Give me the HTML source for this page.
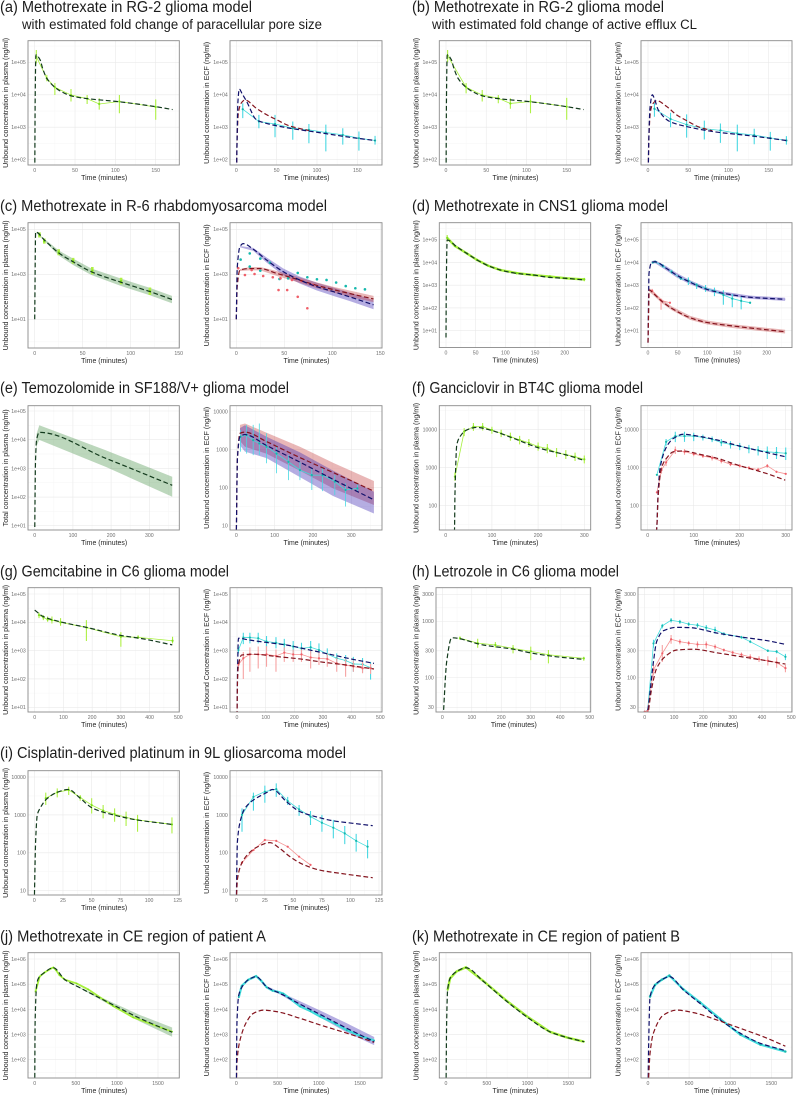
<!DOCTYPE html>
<html lang="en">
<head>
<meta charset="utf-8">
<title>Model predictions versus observed concentrations</title>
<style>
html,body{margin:0;padding:0;background:#fff;}
#figure{display:block;width:796px;height:1096px;font-family:"Liberation Sans",sans-serif;filter:blur(0.25px);}
.panel-title{font-size:15.5px;fill:#1c1c1c;}
.panel-subtitle{font-size:13.5px;fill:#1c1c1c;}
</style>
</head>
<body>
<svg id="figure" width="796" height="1096" viewBox="0 0 796 1096" xmlns="http://www.w3.org/2000/svg">
<rect x="0" y="0" width="796" height="1096" fill="#fff"/>
<text class="panel-title" x="0" y="12" textLength="252" lengthAdjust="spacingAndGlyphs">(a) Methotrexate in RG-2 glioma model</text>
<text class="panel-subtitle" x="22" y="29" textLength="300" lengthAdjust="spacingAndGlyphs">with estimated fold change of paracellular pore size</text>
<text class="panel-title" x="412" y="12" textLength="252" lengthAdjust="spacingAndGlyphs">(b) Methotrexate in RG-2 glioma model</text>
<text class="panel-subtitle" x="432" y="29" textLength="265" lengthAdjust="spacingAndGlyphs">with estimated fold change of active efflux CL</text>
<text class="panel-title" x="0" y="211" textLength="327" lengthAdjust="spacingAndGlyphs">(c) Methotrexate in R-6 rhabdomyosarcoma model</text>
<text class="panel-title" x="412" y="211" textLength="256" lengthAdjust="spacingAndGlyphs">(d) Methotrexate in CNS1 glioma model</text>
<text class="panel-title" x="0" y="393" textLength="289" lengthAdjust="spacingAndGlyphs">(e) Temozolomide in SF188/V+ glioma model</text>
<text class="panel-title" x="412" y="393" textLength="231" lengthAdjust="spacingAndGlyphs">(f) Ganciclovir in BT4C glioma model</text>
<text class="panel-title" x="0" y="576.5" textLength="229" lengthAdjust="spacingAndGlyphs">(g) Gemcitabine in C6 glioma model</text>
<text class="panel-title" x="412" y="576.5" textLength="207" lengthAdjust="spacingAndGlyphs">(h) Letrozole in C6 glioma model</text>
<text class="panel-title" x="0" y="758" textLength="346" lengthAdjust="spacingAndGlyphs">(i) Cisplatin-derived platinum in 9L gliosarcoma model</text>
<text class="panel-title" x="0" y="941.5" textLength="266" lengthAdjust="spacingAndGlyphs">(j) Methotrexate in CE region of patient A</text>
<text class="panel-title" x="412" y="941.5" textLength="268" lengthAdjust="spacingAndGlyphs">(k) Methotrexate in CE region of patient B</text>
<g id="panels"></g>
</svg>
<script>
// ---------- tick arrays ----------
const xTicks150 = [0,50,100,150];
const xTicks250 = [0,50,100,150,200];
const xTicks300 = [0,100,200,300];
const xTicks500 = [0,100,200,300,400,500];
const xTicks125 = [0,25,50,75,100,125];
const xTicks1500 = [0,500,1000,1500];
const yTicksA = [100000,10000,1000,100];
const yLabelsA = ['1e+05','1e+04','1e+03','1e+02'];
const yTicksC = [100000,1000,10];
const yLabelsC = ['1e+05','1e+03','1e+01'];
const yTicksD = [100000,10000,1000,100,10];
const yLabelsD = ['1e+05','1e+04','1e+03','1e+02','1e+01'];
const yTicksE = [10000,1000,100,10];
const yLabelsE = ['10000','1000','100','10'];
const yTicksF = [10000,1000,100];
const yLabelsF = ['10000','1000','100'];
const yTicksH = [3000,1000,300,100,30];
const yLabelsH = ['3000','1000','300','100','30'];
const yTicksJ = [1000000,100000,10000,1000,100];
const yLabelsJ = ['1e+06','1e+05','1e+04','1e+03','1e+02'];

// ---------- (a) ----------
const aPlasmaTime = [0,0.6,1.5,6.6,10,15,25,33,46,65,102,150,171];
const aPlasmaModel = [10,8000,170000,120000,63000,32000,17000,12500,9100,7600,6200,4300,3500];
const aPlasmaObsTime = [2,15,25,45,65,80,105,150];
const aPlasmaObs = [150000,32000,17000,9800,7600,5200,6200,4200];
const aPlasmaObsLow = [93000,26000,9800,6200,5200,3500,2700,1700];
const aPlasmaObsHigh = [240000,41000,23000,15000,9800,7800,9800,7200];
const aEcfBlueTime = [0,1,2,3.7,7,12.8,25,38,66.5,100,141,172];
const aEcfBlue = [10,500,6000,15000,11000,6200,1700,1300,930,700,490,390];
const aEcfRedTime = [0,1,2.5,6,10.7,25,38,50,66,90];
const aEcfRed = [10,400,2700,5500,6900,3800,2400,1700,1100,790];
const aEcfObsTime = [8,28,48,70,90,111,132,152,172];
const aEcfObs = [3600,1500,1260,930,830,690,580,460,390];
const aEcfObsLow = [1900,930,490,410,320,180,290,190,290];
const aEcfObsHigh = [5500,2400,2400,1500,1260,1200,930,740,540];

// ---------- (b) ----------
const bPlasmaTime = [0,0.6,1.5,6.6,10,15,25,33,46,65,102,150,171];
const bPlasmaModel = [10,8000,170000,120000,63000,32000,17000,12500,9100,7600,6200,4300,3500];
const bPlasmaObsTime = [2,25,45,65,80,105,150];
const bPlasmaObs = [160000,17000,9800,7800,5400,6200,4300];
const bPlasmaObsLow = [100000,11000,6200,5500,3700,2700,1700];
const bPlasmaObsHigh = [240000,23000,14000,9800,7800,9800,8000];
const bEcfBlueTime = [0,1,2.5,5.4,8,12.8,27,48,85,126,172];
const bEcfBlue = [10,400,4000,10000,7500,3400,1500,1050,710,550,390];
const bEcfRedTime = [0,1,3,6,10.7,23,35.5,48,64,80];
const bEcfRed = [10,400,3000,5300,6600,4400,2400,1600,1000,780];
const bEcfObsTime = [8,28,48,70,90,111,132,152,172];
const bEcfObs = [3700,1800,1200,900,800,650,570,470,390];
const bEcfObsLow = [2100,1000,480,420,330,180,300,190,290];
const bEcfObsHigh = [5600,2800,2500,1600,1300,1200,900,720,530];

// ---------- (c) ----------
const cPlasmaTime = [0,1,10.8,25.7,40,59,90,120,143];
const cPlasmaModel = [10,76000,31000,8500,3600,1300,440,170,76];
const cPlasmaRibbonTime = [1,10.8,25.7,40,59,90,120,143];
const cPlasmaRibbonHigh = [80000,35000,11000,5000,1800,640,250,110];
const cPlasmaRibbonLow = [74000,28000,6500,2600,930,300,117,52];
const cPlasmaObsTime = [5,10,25,40,60,90,120];
const cPlasmaObs = [56000,30000,9500,4000,1450,500,180];
const cPlasmaObsLow = [43000,23000,7000,3000,1000,360,120];
const cPlasmaObsHigh = [73000,39000,13000,5400,2100,700,260];
const cEcfBlueTime = [0,1,3.8,7.3,17.7,31.6,49,66,84,101,118,143];
const cEcfBlue = [10,2000,17000,23000,13000,4300,1300,560,280,170,100,44];
const cEcfBlueRibbonTime = [3.8,17.7,31.6,49,66,84,101,118,143];
const cEcfBlueHigh = [18000,15000,5600,1800,800,420,260,155,70];
const cEcfBlueLow = [16000,11000,3300,900,390,190,110,65,28];
const cEcfRedTime = [0,1,3.8,14,25,42,59,84,101,118,143];
const cEcfRed = [10,300,1550,1800,1800,1100,680,320,210,140,80];
const cEcfRedRibbonTime = [3.8,14,25,42,59,84,101,118,143];
const cEcfRedHigh = [1700,2100,2100,1400,880,430,280,190,110];
const cEcfRedLow = [1400,1500,1500,850,520,240,155,100,58];
const cEcfTealTime = [4.5,14,14,25,25,35,45,54,64,74,84,94,104,114,124,134];
const cEcfTeal = [4500,8500,2200,5000,1450,3300,620,660,1150,740,600,560,430,300,240,215];
const cEcfSalmonTime = [2,9,16,19,28,38,44,46,53,58,64,68,74,80];
const cEcfSalmon = [1860,930,1550,1030,840,740,200,660,200,560,100,520,31,340];

// ---------- (d) ----------
const dPlasmaTime = [0,0.5,2,18,35,52,71,91,119,147,175,203,233];
const dPlasmaModel = [5,1000,97000,49000,25000,13000,7200,4700,3300,2800,2200,2000,1700];
const dPlasmaObsTime = [2,15,35,52,71,91,119,147,175,203,233];
const dPlasmaObs = [120000,53000,25000,13000,7200,4700,3400,2800,2400,2000,1800];
const dPlasmaObsLow = [83000,47000,22000,11500,6400,4200,3000,2500,2000,1800,1500];
const dPlasmaObsHigh = [160000,60000,28000,15000,8100,5200,3800,3100,2800,2200,2100];
const dEcfBlueTime = [0,1,1.7,6,12,31,48,71,99,127,172,231];
const dEcfBlue = [3,300,3300,10000,10700,5500,2800,1350,660,440,295,240];
const dEcfBlueRibbonTime = [6,12,31,48,71,99,127,172,231];
const dEcfBlueHigh = [11500,12500,6800,3500,1650,790,520,350,280];
const dEcfBlueLow = [8700,9200,4400,2200,1100,550,370,250,205];
const dEcfRedTime = [0,1,2,9,23,40,71,99,144,231];
const dEcfRed = [3,50,620,440,200,96,37,23,16,9];
const dEcfRedRibbonTime = [2,9,23,40,71,99,144,231];
const dEcfRedHigh = [750,540,245,117,45,28,19,11];
const dEcfRedLow = [510,360,165,79,30,19,13,7.5];
const dEcfCyanTime = [8,12,25,40,55,68,82,97,112,127,142,157,172];
const dEcfCyan = [10000,10700,7000,3800,2000,1580,1020,720,560,370,257,204,170];
const dEcfCyanLow = [9000,9500,6000,3200,1700,1020,680,510,330,138,107,87,150];
const dEcfCyanHigh = [11000,12000,8500,4800,2500,2200,1230,1020,780,600,410,310,190];
const dEcfSalmonTime = [7,22,37];
const dEcfSalmon = [575,214,170];
const dEcfSalmonLow = [480,83,150];
const dEcfSalmonHigh = [690,260,190];

// ---------- (e) ----------
const ePlasmaTime = [0,2,5,12,186,360];
const ePlasmaModel = [5,1500,10000,18000,2240,257];
const ePlasmaRibbonTime = [2,5,12,186,360];
const ePlasmaHigh = [1700,16000,32000,4300,510];
const ePlasmaLow = [1300,6000,9800,1130,102];
const eEcfBlueTime = [0,3,9.6,22.6,79,166,253,359];
const eEcfBlue = [5,600,2200,2500,1290,470,165,48];
const eEcfRedTime = [0,3,9.6,22.6,79,166,253,359];
const eEcfRed = [5,600,2700,2900,1630,620,250,81];
const eEcfRibbonTime = [9.6,22.6,79,166,253,359];
const eEcfRedHigh = [4500,4900,2800,1200,450,150];
const eEcfRedLow = [1700,1200,780,280,95,35];
const eEcfBlueHigh = [3700,4400,2200,850,280,78];
const eEcfBlueLow = [1300,890,600,190,60,21];
const eEcfObsTime = [11,27,44,60,79,105,136,166,197,225,257,285,316];
const eEcfObs = [2200,2450,1780,1460,1200,790,480,290,214,214,145,87,96];
const eEcfObsLow = [890,790,720,720,440,240,158,158,87,81,64,32,76];
const eEcfObsHigh = [3300,4500,4500,4900,2700,1320,720,480,325,325,214,130,130];

// ---------- (f) ----------
const fPlasmaTime = [0,19,20,24,31,45,67,96,147,204,262,300];
const fPlasmaModel = [22,22,190,4000,6600,9800,11500,9800,5900,3240,2150,1550];
const fPlasmaObsTime = [20,40,60,80,100,120,140,160,180,200,220,240,260,280,300];
const fPlasmaObs = [580,8900,12000,12000,9800,8000,6600,5400,4500,3600,3200,2500,2200,1950,1660];
const fPlasmaObsLow = [450,6800,9300,9500,7800,6400,5100,4100,3500,2800,2400,1900,1700,1500,1300];
const fPlasmaObsHigh = [750,11000,15000,15000,12000,10000,8400,6900,5700,4600,4200,3300,2900,2500,2100];
const fEcfBlueTime = [0,19,20,22,27,41,56,77,114,150,200,259,299];
const fEcfBlue = [22,22,30,150,1000,3550,5900,7600,6600,5400,3700,2500,1950];
const fEcfRedTime = [0,19,20,23,30,41,56,77,114,150,200,259,299];
const fEcfRed = [22,22,30,200,1000,1780,2630,2750,2240,1780,1130,700,470];
const fEcfCyanTime = [20,40,60,80,100,120,140,160,180,200,220,240,260,280,300];
const fEcfCyan = [650,4800,6800,6800,6800,6300,5600,4600,4100,3700,3230,2900,2630,2500,2400];
const fEcfCyanLow = [620,3800,4700,4800,5000,5200,4700,3700,3200,2900,2400,2100,1700,1700,1600];
const fEcfCyanHigh = [680,5700,8800,8800,8300,7400,6600,5700,5000,4500,4000,3700,3600,3500,3400];
const fEcfSalmonTime = [20,30,40,60,80,100,120,140,160,180,200,220,240,260,280,300];
const fEcfSalmon = [225,870,1380,2900,2630,2290,2040,1820,1500,1230,1120,990,890,1120,780,690];
const fEcfSalmonLow = [210,700,1100,2300,2200,2000,1800,1550,1300,1100,1000,880,790,1000,730,660];
const fEcfSalmonHigh = [240,1050,1700,3600,3100,2600,2300,2100,1750,1400,1250,1100,1000,1250,830,720];

// ---------- (g) ----------
const gPlasmaTime = [0,30,88,181,297,378,479];
const gPlasmaModel = [27000,16000,10500,6600,3500,2600,1600];
const gPlasmaObsTime = [15,30,45,60,90,180,300,360,480];
const gPlasmaObs = [18000,15000,12600,12000,10000,6600,3100,2950,2240];
const gPlasmaObsLow = [14000,12000,10500,9100,7600,2200,1380,2600,1800];
const gPlasmaObsHigh = [22000,18000,16000,16000,14000,12000,4500,3500,3100];
const gEcfBlueTime = [0,2,5,40,103,173,255,336,406,478];
const gEcfBlue = [5,200,2750,2400,1950,1580,1050,700,490,355];
const gEcfRedTime = [0,2,5,16,57,138,220,301,383,478];
const gEcfRed = [5,100,300,700,750,620,510,390,310,225];
const gEcfObsTime = [5,22,45,74,103,136,165,196,225,257,286,315,348,379,406,438,466];
const gEcfCyan = [1050,2900,2900,2750,2100,1900,1660,1400,1200,1320,1050,760,540,450,340,330,250];
const gEcfCyanLow = [800,1700,1800,1800,1300,1200,1000,850,800,800,600,480,350,280,180,170,95];
const gEcfCyanHigh = [1300,4300,4300,4300,3300,3000,2600,2200,1900,2200,1800,1200,800,700,600,550,400];
const gEcfSalmon = [320,540,740,740,740,650,850,740,740,575,540,510,355,310,275,240,240];
const gEcfSalmonLow = [280,100,180,235,270,180,400,400,400,235,310,270,180,120,180,160,150];
const gEcfSalmonHigh = [380,900,1300,1400,1450,1100,1300,1100,1100,1000,900,800,560,500,450,400,340];

// ---------- (h) ----------
const hPlasmaTime = [3,15,32,139,241,309,388,473];
const hPlasmaModel = [20,195,510,380,320,270,235,213];
const hPlasmaObsTime = [60,120,180,240,300,360,480];
const hPlasmaObs = [500,410,380,330,295,255,220];
const hPlasmaObsLow = [470,340,340,270,205,180,200];
const hPlasmaObsHigh = [540,490,430,380,355,310,235];
const hEcfBlueTime = [6,12,30,41,64,109,155,245,336,416,480];
const hEcfBlue = [20,30,195,440,680,780,770,620,520,455,390];
const hEcfRedTime = [10,24,41,75,109,166,245,336,416,480];
const hEcfRed = [20,65,148,250,310,320,277,233,200,175];
const hEcfCyanTime = [0,10,30,60,90,120,150,180,210,240,270,330,360,420,450,480];
const hEcfCyan = [25,26,405,830,1040,980,890,850,770,700,600,520,435,300,290,235];
const hEcfCyanLow = [24,25,340,750,950,900,820,770,690,600,560,490,410,285,270,205];
const hEcfCyanHigh = [26,28,470,900,1140,1060,960,930,860,800,640,550,460,320,310,265];
const hEcfSalmonTime = [0,10,30,60,90,120,150,180,210,240,270,300,330,360,390,420,450,480];
const hEcfSalmon = [25,26,138,270,480,435,410,390,390,355,310,280,257,233,214,200,186,148];
const hEcfSalmonLow = [24,25,110,190,400,390,370,340,330,320,290,260,235,210,190,165,150,125];
const hEcfSalmonHigh = [26,28,170,380,570,480,450,440,440,390,330,300,280,260,240,240,230,170];

// ---------- (i) ----------
const iPlasmaTime = [0,1.2,2.6,5,10.8,19.5,29.7,40,51,69,89,120];
const iPlasmaModel = [5,218,1000,1500,2630,3890,4700,2750,1490,1000,740,560];
const iPlasmaObsTime = [10,20,30,40,50,60,70,80,90,120];
const iPlasmaObs = [2750,3950,4550,2900,1820,1300,1050,860,740,560];
const iPlasmaObsLow = [1820,2900,3350,2370,1090,810,660,510,360,325];
const iPlasmaObsHigh = [3860,5000,5550,3350,2740,1820,1490,1220,1000,860];
const iEcfBlueTime = [0,1,3.8,7.5,14.8,26.5,31.7,44,55.5,70,84.6,102,119.5];
const iEcfBlue = [5,200,750,1490,2450,3880,4700,2230,1230,890,700,600,520];
const iEcfRedTime = [0,1,4.6,10.5,17.7,29.4,38,47,58,73,90,119.5];
const iEcfRed = [5,20,52,94,139,186,131,79,50,35,29,22];
const iEcfCyanTime = [5,15,25,35,45,55,65,75,85,95,105,115];
const iEcfCyan = [1000,3000,4100,4800,2330,1400,900,620,460,325,207,145];
const iEcfCyanLow = [360,1300,2100,3000,1820,940,540,360,240,170,107,71];
const iEcfCyanHigh = [1490,3860,5900,6800,3000,1820,1270,1000,740,510,315,218];
const iEcfSalmonTime = [5,15,25,35,45,55,65];
const iEcfSalmon = [55,118,218,206,145,79,48];

// ---------- (j) ----------
const jPlasmaTime = [0,5,24,45,105,227,368,550,955,1279,1672];
const jPlasmaModel = [5,3000,93000,170000,270000,450000,150000,72000,15000,4400,1230];
const jPlasmaRibbonTime = [227,368,550,955,1279,1672];
const jPlasmaHigh = [470000,155000,75000,18000,6000,1900];
const jPlasmaLow = [430000,145000,69000,12500,3300,820];
const jPlasmaObsTime = [10,60,120,200,227,260,300,368,510,651,955,1198,1672];
const jPlasmaObs = [50000,200000,290000,420000,460000,360000,230000,150000,107000,62000,13500,4800,1300];
const jEcfBlueTime = [0,8,30,85,146,240,368,570,773,1016,1340,1672];
const jEcfBlue = [5,3000,37000,93000,150000,200000,79000,37000,16000,6300,1770,520];
const jEcfBlueRibbonTime = [240,368,570,773,1016,1340,1672];
const jEcfBlueHigh = [210000,85000,42000,21000,9000,2800,800];
const jEcfBlueLow = [190000,75000,33000,13000,4800,1200,380];
const jEcfRedTime = [0,8,45,125,206,328,490,773,1016,1340,1672];
const jEcfRed = [5,80,600,3200,6900,9300,8100,4400,2400,1130,490];
const jEcfCyanTime = [30,65,146,200,240,300,368,440,500,570,650,773,900,1016,1200,1340,1500,1672];
const jEcfCyan = [30000,85000,150000,180000,210000,140000,75000,55000,50000,42000,27000,13000,8500,5200,2700,1500,900,580];

// ---------- (k) ----------
const kPlasmaTime = [0,8,20,50,130,245,457,743,988,1273,1478,1694];
const kPlasmaModel = [5,3000,59000,170000,320000,450000,130000,21000,5100,1290,770,520];
const kPlasmaObsTime = [20,50,130,245,457,743,988,1273,1478,1694];
const kPlasmaObs = [59000,170000,320000,470000,135000,22000,5400,1290,770,520];
const kEcfBlueTime = [0,8,25,85,167,260,431,634,878,1122,1366,1671];
const kEcfBlue = [5,400,32000,93000,150000,200000,59000,17000,3800,1130,450,230];
const kEcfRedTime = [0,8,25,65,187,350,553,837,1122,1406,1671];
const kEcfRed = [5,20,180,1120,5900,9300,7400,3800,1770,810,345];
const kEcfCyanTime = [25,85,167,260,431,634,878,1122,1366,1671];
const kEcfCyan = [32000,93000,150000,220000,62000,19000,4200,1000,400,210];

// ---------- panel definitions (layout in px, series by reference) ----------
const plasmaTitle = 'Unbound concentration in plasma (ng/ml)';
const ecfTitle = 'Unbound concentration in ECF (ng/ml)';
const colL = {l:28,r:179.3,titleX:8,yLen:130};
const colR = {l:230,r:382,titleX:209,yLen:122};
const colB = {l:439.3,r:590.7,titleX:418.7,yLen:130};
const colD = {l:641,r:792,titleX:620.7,yLen:122};

const panels = [
 {id:'a-plasma',col:colL,t:40.7,b:165,xa:[0,34.7,150,155.7],ya:[100000,62.3,100,159.7],xTicks:xTicks150,yTicks:yTicksA,yLabels:yLabelsA,yTitle:plasmaTitle,
  obs:[{c:'green',t:aPlasmaObsTime,v:aPlasmaObs,lo:aPlasmaObsLow,hi:aPlasmaObsHigh}],
  models:[{c:'green',t:aPlasmaTime,v:aPlasmaModel}]},
 {id:'a-ecf',col:colR,t:40.7,b:165,xa:[0,236.3,150,357.3],ya:[100000,62.3,100,159.7],xTicks:xTicks150,yTicks:yTicksA,yLabels:yLabelsA,yTitle:ecfTitle,
  obs:[{c:'cyan',t:aEcfObsTime,v:aEcfObs,lo:aEcfObsLow,hi:aEcfObsHigh}],
  models:[{c:'red',t:aEcfRedTime,v:aEcfRed},{c:'blue',t:aEcfBlueTime,v:aEcfBlue}]},
 {id:'b-plasma',col:colB,t:40.7,b:165,xa:[0,446,150,566.7],ya:[100000,62.3,100,159.7],xTicks:xTicks150,yTicks:yTicksA,yLabels:yLabelsA,yTitle:plasmaTitle,
  obs:[{c:'green',t:bPlasmaObsTime,v:bPlasmaObs,lo:bPlasmaObsLow,hi:bPlasmaObsHigh}],
  models:[{c:'green',t:bPlasmaTime,v:bPlasmaModel}]},
 {id:'b-ecf',col:colD,t:40.7,b:165,xa:[0,648,150,768.7],ya:[100000,62.3,100,159.7],xTicks:xTicks150,yTicks:yTicksA,yLabels:yLabelsA,yTitle:ecfTitle,
  obs:[{c:'cyan',t:bEcfObsTime,v:bEcfObs,lo:bEcfObsLow,hi:bEcfObsHigh}],
  models:[{c:'red',t:bEcfRedTime,v:bEcfRed},{c:'blue',t:bEcfBlueTime,v:bEcfBlue}]},

 {id:'c-plasma',col:colL,t:222.7,b:348,xa:[0,34.7,150,178.7],ya:[100000,229.3,10,319.3],xTicks:xTicks150,yTicks:yTicksC,yLabels:yLabelsC,yTitle:plasmaTitle,
  ribbons:[{c:'green',t:cPlasmaRibbonTime,lo:cPlasmaRibbonLow,hi:cPlasmaRibbonHigh}],
  obs:[{c:'green',t:cPlasmaObsTime,v:cPlasmaObs,lo:cPlasmaObsLow,hi:cPlasmaObsHigh,errW:2.6,noLine:true}],
  models:[{c:'green',t:cPlasmaTime,v:cPlasmaModel}]},
 {id:'c-ecf',col:colR,t:222.7,b:348,xa:[0,236.3,150,380.3],ya:[100000,229.3,10,319.3],xTicks:xTicks150,yTicks:yTicksC,yLabels:yLabelsC,yTitle:ecfTitle,
  ribbons:[{c:'blue',t:cEcfBlueRibbonTime,lo:cEcfBlueLow,hi:cEcfBlueHigh},{c:'red',t:cEcfRedRibbonTime,lo:cEcfRedLow,hi:cEcfRedHigh}],
  obs:[{c:'cyan',t:cEcfTealTime,v:cEcfTeal,noLine:true,r:1.3},{c:'salmon',t:cEcfSalmonTime,v:cEcfSalmon,noLine:true,r:1.3}],
  models:[{c:'red',t:cEcfRedTime,v:cEcfRed},{c:'blue',t:cEcfBlueTime,v:cEcfBlue}]},
 {id:'d-plasma',col:colB,t:222.7,b:347.5,xa:[0,446,200,564.7],ya:[100000,239.7,10,330.7],xTicks:xTicks250,yTicks:yTicksD,yLabels:yLabelsD,yTitle:plasmaTitle,
  obs:[{c:'green',t:dPlasmaObsTime,v:dPlasmaObs,lo:dPlasmaObsLow,hi:dPlasmaObsHigh,lineW:2.4,errW:1.2}],
  models:[{c:'green',t:dPlasmaTime,v:dPlasmaModel}]},
 {id:'d-ecf',col:colD,t:222.7,b:347.5,xa:[0,648,200,766.7],ya:[100000,239.7,10,330.7],xTicks:xTicks250,yTicks:yTicksD,yLabels:yLabelsD,yTitle:ecfTitle,
  ribbons:[{c:'blue',t:dEcfBlueRibbonTime,lo:dEcfBlueLow,hi:dEcfBlueHigh},{c:'red',t:dEcfRedRibbonTime,lo:dEcfRedLow,hi:dEcfRedHigh}],
  obs:[{c:'cyan',t:dEcfCyanTime,v:dEcfCyan,lo:dEcfCyanLow,hi:dEcfCyanHigh,lineW:0.9},{c:'salmon',t:dEcfSalmonTime,v:dEcfSalmon,lo:dEcfSalmonLow,hi:dEcfSalmonHigh}],
  models:[{c:'blue',t:dEcfBlueTime,v:dEcfBlue},{c:'red',t:dEcfRedTime,v:dEcfRed}]},

 {id:'e-plasma',col:colL,t:405.7,b:530,xa:[0,34.7,300,149.3],ya:[100000,411,10,525.7],xTicks:xTicks300,yTicks:yTicksD,yLabels:yLabelsD,yTitle:'Total concentration in plasma (ng/ml)',yLen:117,
  ribbons:[{c:'green',t:ePlasmaRibbonTime,lo:ePlasmaLow,hi:ePlasmaHigh}],
  models:[{c:'green',t:ePlasmaTime,v:ePlasmaModel}]},
 {id:'e-ecf',col:colR,t:405.7,b:530,xa:[0,236.3,300,351.3],ya:[10000,411.7,10,525.7],xTicks:xTicks300,yTicks:yTicksE,yLabels:yLabelsE,yTitle:ecfTitle,
  ribbons:[{c:'red',t:eEcfRibbonTime,lo:eEcfRedLow,hi:eEcfRedHigh},{c:'blue',t:eEcfRibbonTime,lo:eEcfBlueLow,hi:eEcfBlueHigh}],
  obs:[{c:'cyan',t:eEcfObsTime,v:eEcfObs,lo:eEcfObsLow,hi:eEcfObsHigh,errW:0.8}],
  models:[{c:'red',t:eEcfRedTime,v:eEcfRed},{c:'blue',t:eEcfBlueTime,v:eEcfBlue}]},
 {id:'f-plasma',col:colB,t:405.7,b:530,xa:[0,445.7,300,584.3],ya:[10000,429.7,100,505.7],xTicks:xTicks300,yTicks:yTicksF,yLabels:yLabelsF,yTitle:plasmaTitle,
  obs:[{c:'green',t:fPlasmaObsTime,v:fPlasmaObs,lo:fPlasmaObsLow,hi:fPlasmaObsHigh}],
  models:[{c:'green',t:fPlasmaTime,v:fPlasmaModel}]},
 {id:'f-ecf',col:colD,t:405.7,b:530,xa:[0,647.7,300,785.7],ya:[10000,429.7,100,505.7],xTicks:xTicks300,yTicks:yTicksF,yLabels:yLabelsF,yTitle:ecfTitle,
  obs:[{c:'cyan',t:fEcfCyanTime,v:fEcfCyan,lo:fEcfCyanLow,hi:fEcfCyanHigh},{c:'salmon',t:fEcfSalmonTime,v:fEcfSalmon,lo:fEcfSalmonLow,hi:fEcfSalmonHigh}],
  models:[{c:'blue',t:fEcfBlueTime,v:fEcfBlue},{c:'red',t:fEcfRedTime,v:fEcfRed}]},

 {id:'g-plasma',col:colL,t:587.7,b:712,xa:[0,34.7,500,178.3],ya:[100000,594,10,707.3],xTicks:xTicks500,yTicks:yTicksD,yLabels:yLabelsD,yTitle:plasmaTitle,
  obs:[{c:'green',t:gPlasmaObsTime,v:gPlasmaObs,lo:gPlasmaObsLow,hi:gPlasmaObsHigh}],
  models:[{c:'green',t:gPlasmaTime,v:gPlasmaModel}]},
 {id:'g-ecf',col:colR,t:587.7,b:712,xa:[0,237,500,380.3],ya:[100000,594,10,707.3],xTicks:xTicks500,yTicks:yTicksD,yLabels:yLabelsD,yTitle:'Unbound Concentration in ECF (ng/ml)',
  obs:[{c:'cyan',t:gEcfObsTime,v:gEcfCyan,lo:gEcfCyanLow,hi:gEcfCyanHigh},{c:'salmon',t:gEcfObsTime,v:gEcfSalmon,lo:gEcfSalmonLow,hi:gEcfSalmonHigh}],
  models:[{c:'blue',t:gEcfBlueTime,v:gEcfBlue},{c:'red',t:gEcfRedTime,v:gEcfRed}]},
 {id:'h-plasma',col:{l:436,r:590.7,titleX:418.7,yLen:130},t:587.7,b:712,xa:[0,442.3,500,589.7],ya:[3000,594.3,30,707.3],xTicks:xTicks500,yTicks:yTicksH,yLabels:yLabelsH,yTitle:plasmaTitle,
  obs:[{c:'green',t:hPlasmaObsTime,v:hPlasmaObs,lo:hPlasmaObsLow,hi:hPlasmaObsHigh}],
  models:[{c:'green',t:hPlasmaTime,v:hPlasmaModel}]},
 {id:'h-ecf',col:{l:638,r:792,titleX:620.7,yLen:122},t:587.7,b:712,xa:[0,644.7,500,791.3],ya:[3000,594.3,30,707.3],xTicks:xTicks500,yTicks:yTicksH,yLabels:yLabelsH,yTitle:ecfTitle,
  obs:[{c:'cyan',t:hEcfCyanTime,v:hEcfCyan,lo:hEcfCyanLow,hi:hEcfCyanHigh},{c:'salmon',t:hEcfSalmonTime,v:hEcfSalmon,lo:hEcfSalmonLow,hi:hEcfSalmonHigh}],
  models:[{c:'blue',t:hEcfBlueTime,v:hEcfBlue},{c:'red',t:hEcfRedTime,v:hEcfRed}]},

 {id:'i-plasma',col:colL,t:770.7,b:895,xa:[0,34.3,125,177.7],ya:[10000,777,10,890.7],xTicks:xTicks125,yTicks:yTicksE,yLabels:yLabelsE,yTitle:plasmaTitle,
  obs:[{c:'green',t:iPlasmaObsTime,v:iPlasmaObs,lo:iPlasmaObsLow,hi:iPlasmaObsHigh}],
  models:[{c:'green',t:iPlasmaTime,v:iPlasmaModel}]},
 {id:'i-ecf',col:colR,t:770.7,b:895,xa:[0,236.3,125,379],ya:[10000,777,10,890.7],xTicks:xTicks125,yTicks:yTicksE,yLabels:yLabelsE,yTitle:ecfTitle,
  obs:[{c:'cyan',t:iEcfCyanTime,v:iEcfCyan,lo:iEcfCyanLow,hi:iEcfCyanHigh},{c:'salmon',t:iEcfSalmonTime,v:iEcfSalmon}],
  models:[{c:'blue',t:iEcfBlueTime,v:iEcfBlue},{c:'red',t:iEcfRedTime,v:iEcfRed}]},

 {id:'j-plasma',col:colL,t:952.7,b:1078,xa:[0,34.7,1500,158],ya:[1000000,959,100,1059.7],xTicks:xTicks1500,yTicks:yTicksJ,yLabels:yLabelsJ,yTitle:plasmaTitle,
  ribbons:[{c:'green',t:jPlasmaRibbonTime,lo:jPlasmaLow,hi:jPlasmaHigh}],
  obs:[{c:'green',t:jPlasmaObsTime,v:jPlasmaObs,lineW:1.8,r:0.8}],
  models:[{c:'green',t:jPlasmaTime,v:jPlasmaModel}]},
 {id:'j-ecf',col:colR,t:952.7,b:1078,xa:[0,236.3,1500,360],ya:[1000000,959,100,1059.7],xTicks:xTicks1500,yTicks:yTicksJ,yLabels:yLabelsJ,yTitle:ecfTitle,
  ribbons:[{c:'blue',t:jEcfBlueRibbonTime,lo:jEcfBlueLow,hi:jEcfBlueHigh}],
  obs:[{c:'cyan',t:jEcfCyanTime,v:jEcfCyan,lineW:2.2,r:0.8}],
  models:[{c:'red',t:jEcfRedTime,v:jEcfRed},{c:'blue',t:jEcfBlueTime,v:jEcfBlue}]},
 {id:'k-plasma',col:colB,t:952.7,b:1078,xa:[0,446,1500,568.3],ya:[1000000,959,100,1059.7],xTicks:xTicks1500,yTicks:yTicksJ,yLabels:yLabelsJ,yTitle:plasmaTitle,
  obs:[{c:'green',t:kPlasmaObsTime,v:kPlasmaObs,lineW:2.4,r:0.8}],
  models:[{c:'green',t:kPlasmaTime,v:kPlasmaModel}]},
 {id:'k-ecf',col:colD,t:952.7,b:1078,xa:[0,648,1500,771.3],ya:[1000000,959,100,1059.7],xTicks:xTicks1500,yTicks:yTicksJ,yLabels:yLabelsJ,yTitle:ecfTitle,
  obs:[{c:'cyan',t:kEcfCyanTime,v:kEcfCyan,lineW:2.2,r:1.2}],
  models:[{c:'blue',t:kEcfBlueTime,v:kEcfBlue},{c:'red',t:kEcfRedTime,v:kEcfRed}]}
];

// ---------- drawing ----------
const NS = 'http://www.w3.org/2000/svg';
const palette = {
  green:{line:'#a6f03c',err:'#aef044',pt:'#7ee01e',dash:'#123a1c',rib:'rgba(46,130,46,0.32)'},
  cyan:{line:'#40dcdc',err:'#48d8e2',pt:'#14b8ac'},
  salmon:{line:'#f59494',err:'#f6a2a2',pt:'#f0606a'},
  blue:{dash:'#10106a',rib:'rgba(60,40,180,0.38)'},
  red:{dash:'#84141e',rib:'rgba(190,45,45,0.34)'}
};
function mk(tag, attrs, parent){
  const el = document.createElementNS(NS, tag);
  for (const k in attrs) el.setAttribute(k, attrs[k]);
  parent.appendChild(el);
  return el;
}
function linearScale(a){
  const k = (a[3]-a[1])/(a[2]-a[0]);
  return v => a[1]+(v-a[0])*k;
}
function logScale(a){
  const l0 = Math.log10(a[0]);
  const k = (a[3]-a[1])/(Math.log10(a[2])-l0);
  return v => a[1]+(Math.log10(v)-l0)*k;
}
function pathFrom(ts, vs, x, y){
  return ts.map((t,i)=>(i?'L':'M')+x(t).toFixed(2)+' '+y(vs[i]).toFixed(2)).join('');
}
// monotone cubic through the model points, in pixel space
function smoothPath(ts, vs, x, y){
  const px = ts.map(x), py = vs.map(y), n = px.length;
  const d = [];
  for (let i=0;i<n-1;i++) d.push((py[i+1]-py[i])/(px[i+1]-px[i]));
  const m = new Array(n);
  m[0] = d[0];
  m[n-1] = d[n-2];
  for (let i=1;i<n-1;i++){
    if (d[i-1]*d[i] <= 0) m[i] = 0;
    else m[i] = 2*d[i-1]*d[i]/(d[i-1]+d[i]);
  }
  let s = 'M'+px[0].toFixed(2)+' '+py[0].toFixed(2);
  for (let i=0;i<n-1;i++){
    const h = (px[i+1]-px[i])/3;
    s += 'C'+(px[i]+h).toFixed(2)+' '+(py[i]+m[i]*h).toFixed(2)+' '+(px[i+1]-h).toFixed(2)+' '+(py[i+1]-m[i+1]*h).toFixed(2)+' '+px[i+1].toFixed(2)+' '+py[i+1].toFixed(2);
  }
  return s;
}

const root = document.getElementById('panels');
panels.forEach(p => {
  const L = p.col.l, R = p.col.r, T = p.t, B = p.b;
  const x = linearScale(p.xa), y = logScale(p.ya);
  const g = mk('g', {}, root);
  
  

  const defs = mk('defs', {}, g);
  const cp = mk('clipPath', {id:'clip-'+p.id}, defs);
  mk('rect', {x:L,y:T,width:R-L,height:B-T}, cp);

  const bg = mk('rect', {x:L,y:T,width:R-L,height:B-T,fill:'#fff'}, g);
  
  

  // grid
  const grid = mk('g', {'clip-path':'url(#clip-'+p.id+')'}, g);
  
  
  const xStep = p.xTicks[1]-p.xTicks[0];
  const minorX = p.xTicks.map(t=>t+xStep/2).concat([p.xTicks[0]-xStep/2]);
  minorX.forEach(t=>{
    mk('line',{x1:x(t),x2:x(t),y1:T,y2:B,stroke:'#f4f4f4','stroke-width':0.4},grid);
  });
  const logs = p.yTicks.map(v=>Math.log10(v));
  const yStep = logs[0]-logs[1];
  const minorY = logs.slice(0,-1).map((l,i)=>(l+logs[i+1])/2).concat([logs[0]+yStep/2,logs[logs.length-1]-yStep/2]);
  minorY.forEach(l=>{
    const py = y(Math.pow(10,l));
    mk('line',{x1:L,x2:R,y1:py,y2:py,stroke:'#f4f4f4','stroke-width':0.4},grid);
  });
  p.xTicks.forEach(t=>{
    mk('line',{x1:x(t),x2:x(t),y1:T,y2:B,stroke:'#e9e9e9','stroke-width':0.6},grid);
  });
  p.yTicks.forEach(v=>{
    mk('line',{x1:L,x2:R,y1:y(v),y2:y(v),stroke:'#e9e9e9','stroke-width':0.6},grid);
  });

  const plot = mk('g', {'clip-path':'url(#clip-'+p.id+')'}, g);
  
  

  // ribbons
  (p.ribbons||[]).forEach(r=>{
    const upper = r.t.map((t,i)=>x(t).toFixed(2)+','+y(r.hi[i]).toFixed(2));
    const lower = r.t.map((t,i)=>x(t).toFixed(2)+','+y(r.lo[i]).toFixed(2)).reverse();
    const poly = mk('polygon',{points:upper.concat(lower).join(' '),fill:palette[r.c].rib},plot);
    
    
  });

  // observed data
  (p.obs||[]).forEach(s=>{
    const st = palette[s.c];
    if (!s.noLine){
      const line = mk('path',{d:pathFrom(s.t,s.v,x,y),fill:'none',stroke:st.line,'stroke-width':s.lineW||0.8},plot);
      
      
    }
    if (s.lo){
      s.t.forEach((t,i)=>{
        const err = mk('line',{x1:x(t),x2:x(t),y1:y(s.lo[i]),y2:y(s.hi[i]),stroke:st.err,'stroke-width':s.errW||1.1},plot);
        
        
      });
    }
    s.t.forEach((t,i)=>{
      const dot = mk('circle',{cx:x(t),cy:y(s.v[i]),r:s.r||1.1,fill:st.pt},plot);
      
      
    });
  });

  // model curves
  (p.models||[]).forEach(m=>{
    const curve = mk('path',{d:smoothPath(m.t,m.v,x,y),fill:'none',stroke:palette[m.c].dash,'stroke-width':1.2,'stroke-dasharray':'4.8 2.6'},plot);
    
    
  });

  // border
  const border = mk('rect',{x:L,y:T,width:R-L,height:B-T,fill:'none',stroke:'#8a8a8a','stroke-width':0.9},g);
  
  

  // x ticks
  p.xTicks.forEach(t=>{
    const lab = mk('text',{x:x(t),y:B+7,'text-anchor':'middle','font-size':5.2,fill:'#6e6e6e'},g);
    lab.textContent = String(t);
    
    
  });
  // y ticks
  p.yTicks.forEach((v,i)=>{
    const lab = mk('text',{x:L-2.2,y:y(v)+1.9,'text-anchor':'end','font-size':5.2,fill:'#6e6e6e'},g);
    lab.textContent = p.yLabels[i];
    
    
  });

  // axis titles
  const xt = mk('text',{x:(L+R)/2+0.5,y:B+15,'text-anchor':'middle','font-size':7,fill:'#262626',textLength:46,lengthAdjust:'spacingAndGlyphs'},g);
  xt.textContent = 'Time (minutes)';
  
  

  const tx = p.col.titleX, ty = (T+B)/2;
  const yt = mk('text',{x:tx,y:ty,'text-anchor':'middle','font-size':7,fill:'#262626',textLength:p.yLen||p.col.yLen,lengthAdjust:'spacingAndGlyphs',transform:'rotate(-90 '+tx+' '+ty+')'},g);
  yt.textContent = p.yTitle;
  
  
});
</script>
</body>
</html>
